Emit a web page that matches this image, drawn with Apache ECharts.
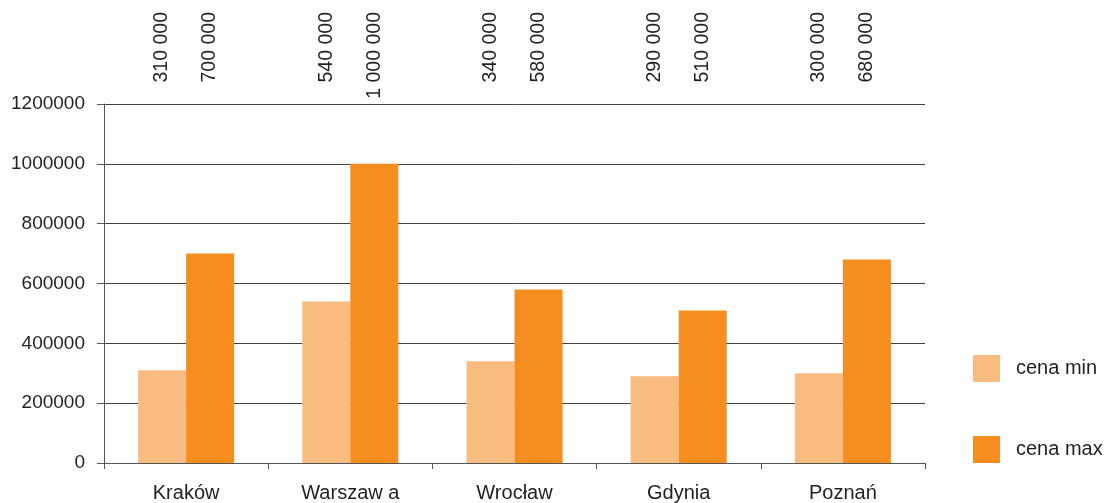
<!DOCTYPE html>
<html>
<head>
<meta charset="utf-8">
<script src="https://cdn.jsdelivr.net/npm/echarts@6/dist/echarts.min.js"></script>
<style>
html,body{margin:0;padding:0;background:#fff;}
#c{width:1107px;height:503px;}
</style>
</head>
<body>
<div id="c"></div>
<script>
const categories = ['Kraków', 'Warszaw a', 'Wrocław', 'Gdynia', 'Poznań'];
const cenaMin = [310000, 540000, 340000, 290000, 300000];
const cenaMax = [700000, 1000000, 580000, 510000, 680000];
const yTicks = [0, 200000, 400000, 600000, 800000, 1000000, 1200000];

const FONT = '"Liberation Sans", Arial, sans-serif';
const TXT = '#231F20';
const BAR_W = 48;

function fmt(v) {
  return String(v).replace(/\B(?=(\d{3})+(?!\d))/g, ' ');
}

const labelData = categories.map((c, i) => [i, cenaMin[i], cenaMax[i]]);

const chart = echarts.init(document.getElementById('c'), null, {renderer: 'canvas'});
chart.setOption({
  animation: false,
  backgroundColor: '#ffffff',
  grid: {left: 104, right: 182, top: 104, bottom: 40, containLabel: false},
  legend: {
    orient: 'vertical',
    left: 973,
    top: 355,
    padding: 0,
    itemWidth: 27,
    itemHeight: 27,
    itemGap: 54,
    icon: 'rect',
    textStyle: {fontFamily: FONT, fontSize: 20, color: TXT, padding: [0, 0, 0, 11]},
    data: ['cena min', 'cena max']
  },
  xAxis: {
    type: 'category',
    data: categories,
    axisLine: {lineStyle: {color: '#555', width: 1}},
    axisTick: {show: true, length: 6, lineStyle: {color: '#555'}},
    axisLabel: {fontFamily: FONT, fontSize: 20, color: TXT, margin: 20},
    splitLine: {show: false}
  },
  yAxis: {
    type: 'value',
    min: yTicks[0],
    max: yTicks[yTicks.length - 1],
    interval: yTicks[1] - yTicks[0],
    axisLine: {show: true, lineStyle: {color: '#555', width: 1}},
    axisTick: {show: true, length: 7, lineStyle: {color: '#555'}},
    axisLabel: {fontFamily: FONT, fontSize: 19, color: TXT, margin: 19, formatter: v => String(v)},
    splitLine: {show: true, lineStyle: {color: '#404040', width: 1}}
  },
  series: [
    {
      name: 'cena min',
      type: 'bar',
      data: cenaMin,
      barWidth: BAR_W,
      barGap: '0%',
      itemStyle: {color: '#F9BC80'}
    },
    {
      name: 'cena max',
      type: 'bar',
      data: cenaMax,
      barWidth: BAR_W,
      barGap: '0%',
      itemStyle: {color: '#F68E1F'}
    },
    {
      type: 'custom',
      data: labelData,
      silent: true,
      z: 10,
      clip: false,
      renderItem: function (params, api) {
        const cx = api.coord([api.value(0), 0])[0];
        const top = 12;
        const mk = (x, v) => ({
          type: 'text',
          x: x,
          y: top,
          rotation: Math.PI / 2,
          style: {
            text: fmt(v),
            fontFamily: FONT,
            fontSize: 19.5,
            fill: TXT,
            align: 'right',
            verticalAlign: 'middle'
          }
        });
        return {
          type: 'group',
          children: [
            mk(cx - BAR_W / 2, api.value(1)),
            mk(cx + BAR_W / 2, api.value(2))
          ]
        };
      }
    }
  ]
});
</script>
</body>
</html>
